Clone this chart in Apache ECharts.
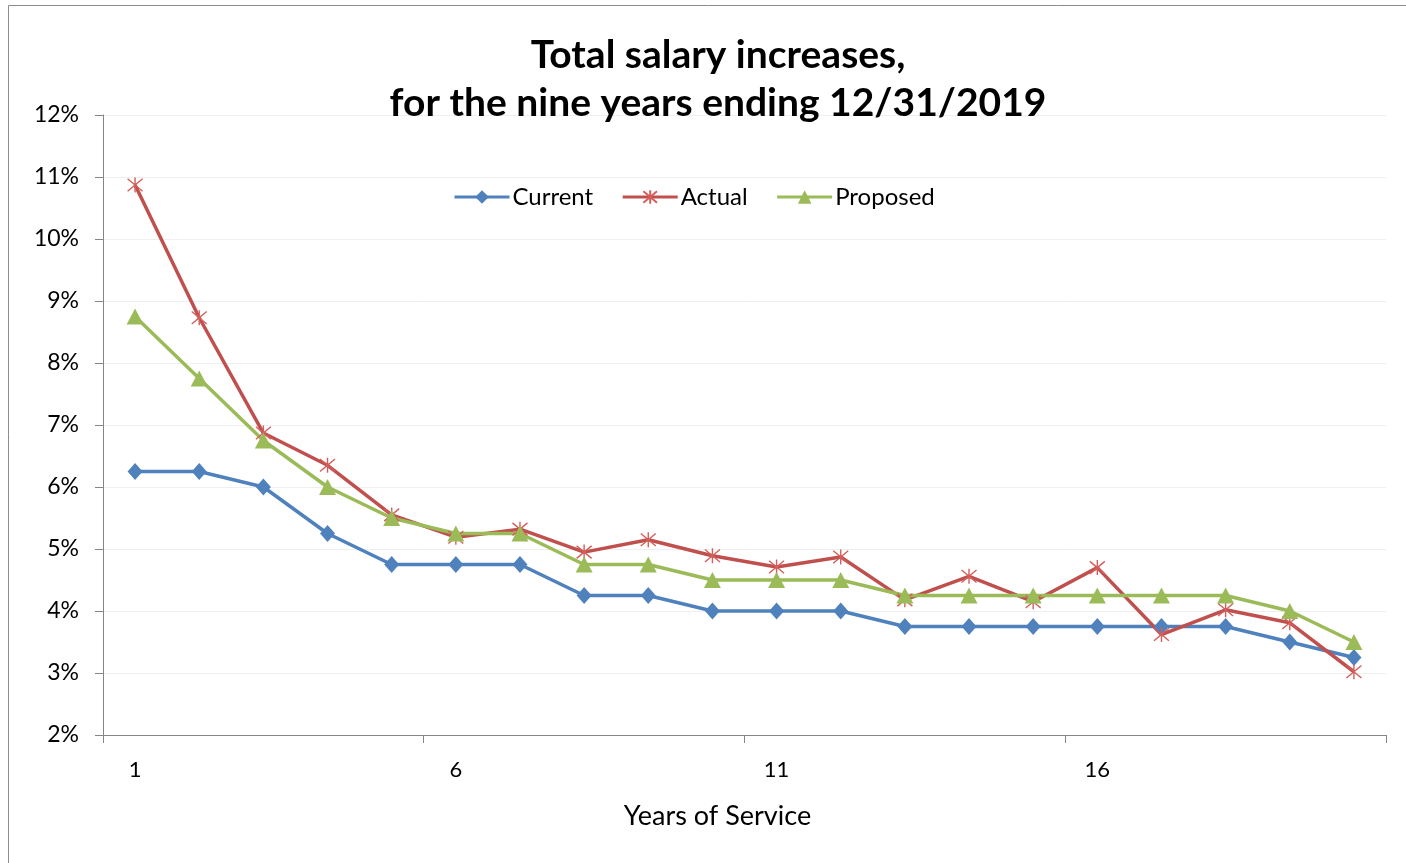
<!DOCTYPE html>
<html>
<head>
<meta charset="utf-8">
<script src="https://cdn.jsdelivr.net/npm/echarts@6/dist/echarts.min.js"></script>
<style>
  html, body { margin: 0; padding: 0; background: #fff; }
  #chart { width: 1406px; height: 863px; }
</style>
</head>
<body>
<div id="chart"></div>
<script>
// years of service 1..20
const years = ['1', '2', '3', '4', '5', '6', '7', '8', '9', '10',
    '11', '12', '13', '14', '15', '16', '17', '18', '19', '20'];
// percent values
const current = [6.25, 6.25, 6.0, 5.25, 4.75, 4.75, 4.75, 4.25, 4.25, 4.0,
    4.0, 4.0, 3.75, 3.75, 3.75, 3.75, 3.75, 3.75, 3.5, 3.25];
const actual = [10.87, 8.73, 6.87, 6.35, 5.55, 5.19, 5.32, 4.95, 5.15, 4.89,
    4.71, 4.87, 4.18, 4.56, 4.15, 4.70, 3.62, 4.02, 3.81, 3.02];
const proposed = [8.75, 7.75, 6.75, 6.0, 5.5, 5.25, 5.25, 4.75, 4.75, 4.5,
    4.5, 4.5, 4.25, 4.25, 4.25, 4.25, 4.25, 4.25, 4.0, 3.5];

const font = 'Lato, "Open Sans", sans-serif';
// asterisk marker like excel's
const starPath = 'path://M0,0L10,10M10,0L0,10M5,-1L5,11';

const myChart = echarts.init(document.getElementById('chart'));
const option = {
    backgroundColor: '#fff',
    animation: false,
    title: {
        text: 'Total salary increases,\nfor the nine years ending 12/31/2019',
        left: 713,
        top: 26,
        textAlign: 'center',   // anchored at x=718, a bit right of the page centre
        textStyle: {
            fontFamily: font,
            fontWeight: 'bold',
            fontSize: 39,
            lineHeight: 48,
            color: '#000'
        }
    },
    legend: {
        top: 180,
        left: 448,
        itemWidth: 55,
        itemHeight: 17,
        itemGap: 28,
        lineStyle: {width: 3},
        textStyle: {fontFamily: font, fontSize: 24, color: '#000', padding: [0, 0, 0, -2]},
        data: ['Current', 'Actual', 'Proposed']
    },
    graphic: [{
        type: 'rect',
        shape: {x: 8.5, y: 5.5, width: 1420, height: 880},
        style: {fill: 'none', stroke: '#8c8c8c', lineWidth: 1},
        silent: true
    }],
    grid: {left: 103, right: 20, top: 115, bottom: 128},
    xAxis: {
        type: 'category',
        data: years,
        boundaryGap: true,
        name: 'Years of Service',
        nameLocation: 'middle',
        nameGap: 68,
        nameTextStyle: {fontFamily: font, fontSize: 27, color: '#000', padding: [0, 54, 0, 0]},
        axisLine: {lineStyle: {color: '#868686', width: 1}},
        axisTick: {show: true, interval: 4, length: 8, lineStyle: {color: '#868686'}},
        axisLabel: {interval: 4, margin: 24, fontFamily: font, fontSize: 22, color: '#000'},
        splitLine: {show: false}
    },
    yAxis: {
        type: 'value',
        min: 2,
        max: 12,
        interval: 1,
        axisLine: {show: true, lineStyle: {color: '#868686', width: 1}},
        axisTick: {show: true, inside: false, length: 8, lineStyle: {color: '#868686'}},
        axisLabel: {
            formatter: '{value}%',
            margin: 24,
            fontFamily: font,
            fontSize: 23,
            color: '#000'
        },
        splitLine: {lineStyle: {color: '#efefef', width: 1}}
    },
    series: [
        {
            name: 'Current',
            type: 'line',
            data: current,
            symbol: 'diamond',
            symbolSize: [15, 17],
            lineStyle: {color: '#4F81BD', width: 3.5},
            itemStyle: {color: '#4F81BD'}
        },
        {
            name: 'Actual',
            type: 'line',
            data: actual,
            symbol: starPath,
            symbolSize: 15,
            lineStyle: {color: '#C0504D', width: 3.5},
            itemStyle: {color: 'none', borderColor: '#D35F5C', borderWidth: 1.4}
        },
        {
            name: 'Proposed',
            type: 'line',
            data: proposed,
            symbol: 'triangle',
            symbolSize: [17, 16],
            lineStyle: {color: '#9BBB59', width: 3.5},
            itemStyle: {color: '#9BBB59'}
        }
    ]
};
myChart.setOption(option);
</script>
</body>
</html>
